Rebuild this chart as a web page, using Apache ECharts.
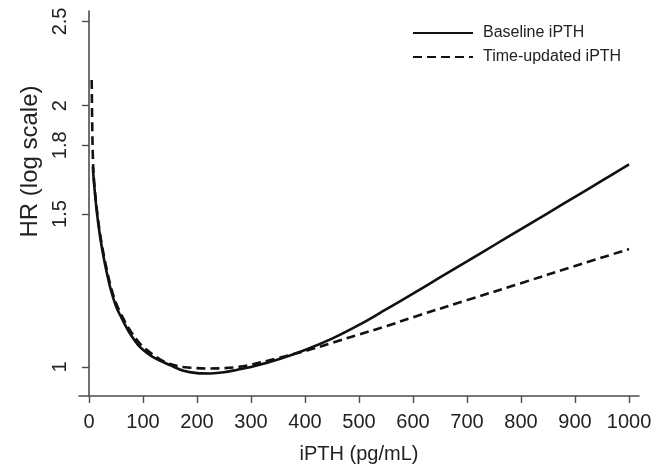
<!DOCTYPE html>
<html>
<head>
<meta charset="utf-8">
<script src="https://cdn.jsdelivr.net/npm/echarts@6/dist/echarts.min.js"></script>
<style>
html,body{margin:0;padding:0;background:#fff;}
#chart{width:658px;height:469px;}
</style>
</head>
<body>
<div id="chart"></div>
<script>
// Baseline iPTH (solid)
const baseIPTH = [7, 10, 15, 20, 25, 30, 40, 50, 60, 75, 90, 100, 115, 130, 150, 175, 200, 225, 250, 275, 300, 350, 400, 450, 500, 550, 600, 650, 700, 750, 800, 850, 900, 950, 1000];
const baseHR   = [1.70, 1.61, 1.50, 1.42, 1.36, 1.31, 1.23, 1.175, 1.14, 1.095, 1.062, 1.047, 1.03, 1.018, 1.005, 0.99, 0.984, 0.983, 0.986, 0.993, 1.0, 1.02, 1.046, 1.078, 1.118, 1.165, 1.215, 1.268, 1.323, 1.381, 1.441, 1.504, 1.57, 1.639, 1.711];
// Time-updated iPTH (dashed)
const tuIPTH = [5, 6, 7.5, 10, 15, 20, 25, 30, 40, 50, 60, 75, 90, 100, 115, 130, 150, 175, 200, 225, 250, 275, 300, 350, 400, 450, 500, 550, 600, 700, 800, 900, 1000];
const tuHR   = [2.14, 1.90, 1.72, 1.62, 1.51, 1.43, 1.37, 1.32, 1.24, 1.185, 1.148, 1.105, 1.072, 1.055, 1.037, 1.022, 1.008, 1.0, 0.997, 0.996, 0.997, 1.0, 1.006, 1.024, 1.043, 1.066, 1.090, 1.114, 1.141, 1.194, 1.249, 1.307, 1.367];

const xTicks = [0, 100, 200, 300, 400, 500, 600, 700, 800, 900, 1000];
const yTicks = [1, 1.5, 1.8, 2, 2.5];

const seriesNames = ['Baseline iPTH', 'Time-updated iPTH'];

const FONT = '"Liberation Sans", Arial, Helvetica, sans-serif';
const AX = '#4d4d4d';

const chart = echarts.init(document.getElementById('chart'), null, {renderer: 'canvas'});
chart.setOption({
  animation: false,
  backgroundColor: '#ffffff',
  textStyle: {fontFamily: FONT},
  grid: {left: 79, right: 19, top: 11, bottom: 73, outerBoundsMode: 'none', containLabel: false},
  legend: {
    data: seriesNames,
    orient: 'vertical',
    left: 407,
    top: 20,
    itemWidth: 60,
    itemHeight: 14,
    itemGap: 8,
    itemStyle: {opacity: 0},
    textStyle: {fontSize: 16, color: '#222', fontFamily: FONT, padding: [0, 0, 0, 5]}
  },
  xAxis: {
    type: 'value',
    min: -18.5,
    max: 1018.5,
    name: 'iPTH (pg/mL)',
    nameLocation: 'middle',
    nameGap: 48,
    nameTextStyle: {fontSize: 20, color: '#222', fontFamily: FONT},
    splitLine: {show: false},
    axisLine: {show: true, onZero: false, lineStyle: {color: AX, width: 1.6}},
    axisTick: {show: true, length: 7, customValues: xTicks, lineStyle: {color: AX, width: 1.4}},
    axisLabel: {customValues: xTicks, fontSize: 20, color: '#222', margin: 16, fontFamily: FONT,
      formatter: v => String(v)}
  },
  yAxis: {
    type: 'log',
    logBase: 10,
    min: 0.926,
    max: 2.57,
    name: 'HR (log scale)',
    nameLocation: 'middle',
    nameGap: 37,
    nameRotate: 90,
    nameTextStyle: {fontSize: 24, color: '#222', fontFamily: FONT, padding: [0, 0, 0, 84]},
    splitLine: {show: false},
    minorSplitLine: {show: false},
    axisLine: {show: true, lineStyle: {color: AX, width: 1.6}},
    axisTick: {show: true, length: 7, customValues: yTicks, lineStyle: {color: AX, width: 1.4}},
    axisLabel: {customValues: yTicks, rotate: 90, fontSize: 20, color: '#222', margin: 9, fontFamily: FONT,
      formatter: v => String(v)}
  },
  series: [
    {
      name: seriesNames[0],
      type: 'line',
      symbol: 'none',
      smooth: 0.35,
      data: baseIPTH.map((x, i) => [x, baseHR[i]]),
      lineStyle: {color: '#111', width: 2.6, type: 'solid'},
      itemStyle: {color: '#111'},
      z: 3
    },
    {
      name: seriesNames[1],
      type: 'line',
      symbol: 'none',
      smooth: 0.35,
      data: tuIPTH.map((x, i) => [x, tuHR[i]]),
      lineStyle: {color: '#111', width: 2.6, type: [9, 5]},
      itemStyle: {color: '#111'},
      z: 2
    }
  ]
});
</script>
</body>
</html>
